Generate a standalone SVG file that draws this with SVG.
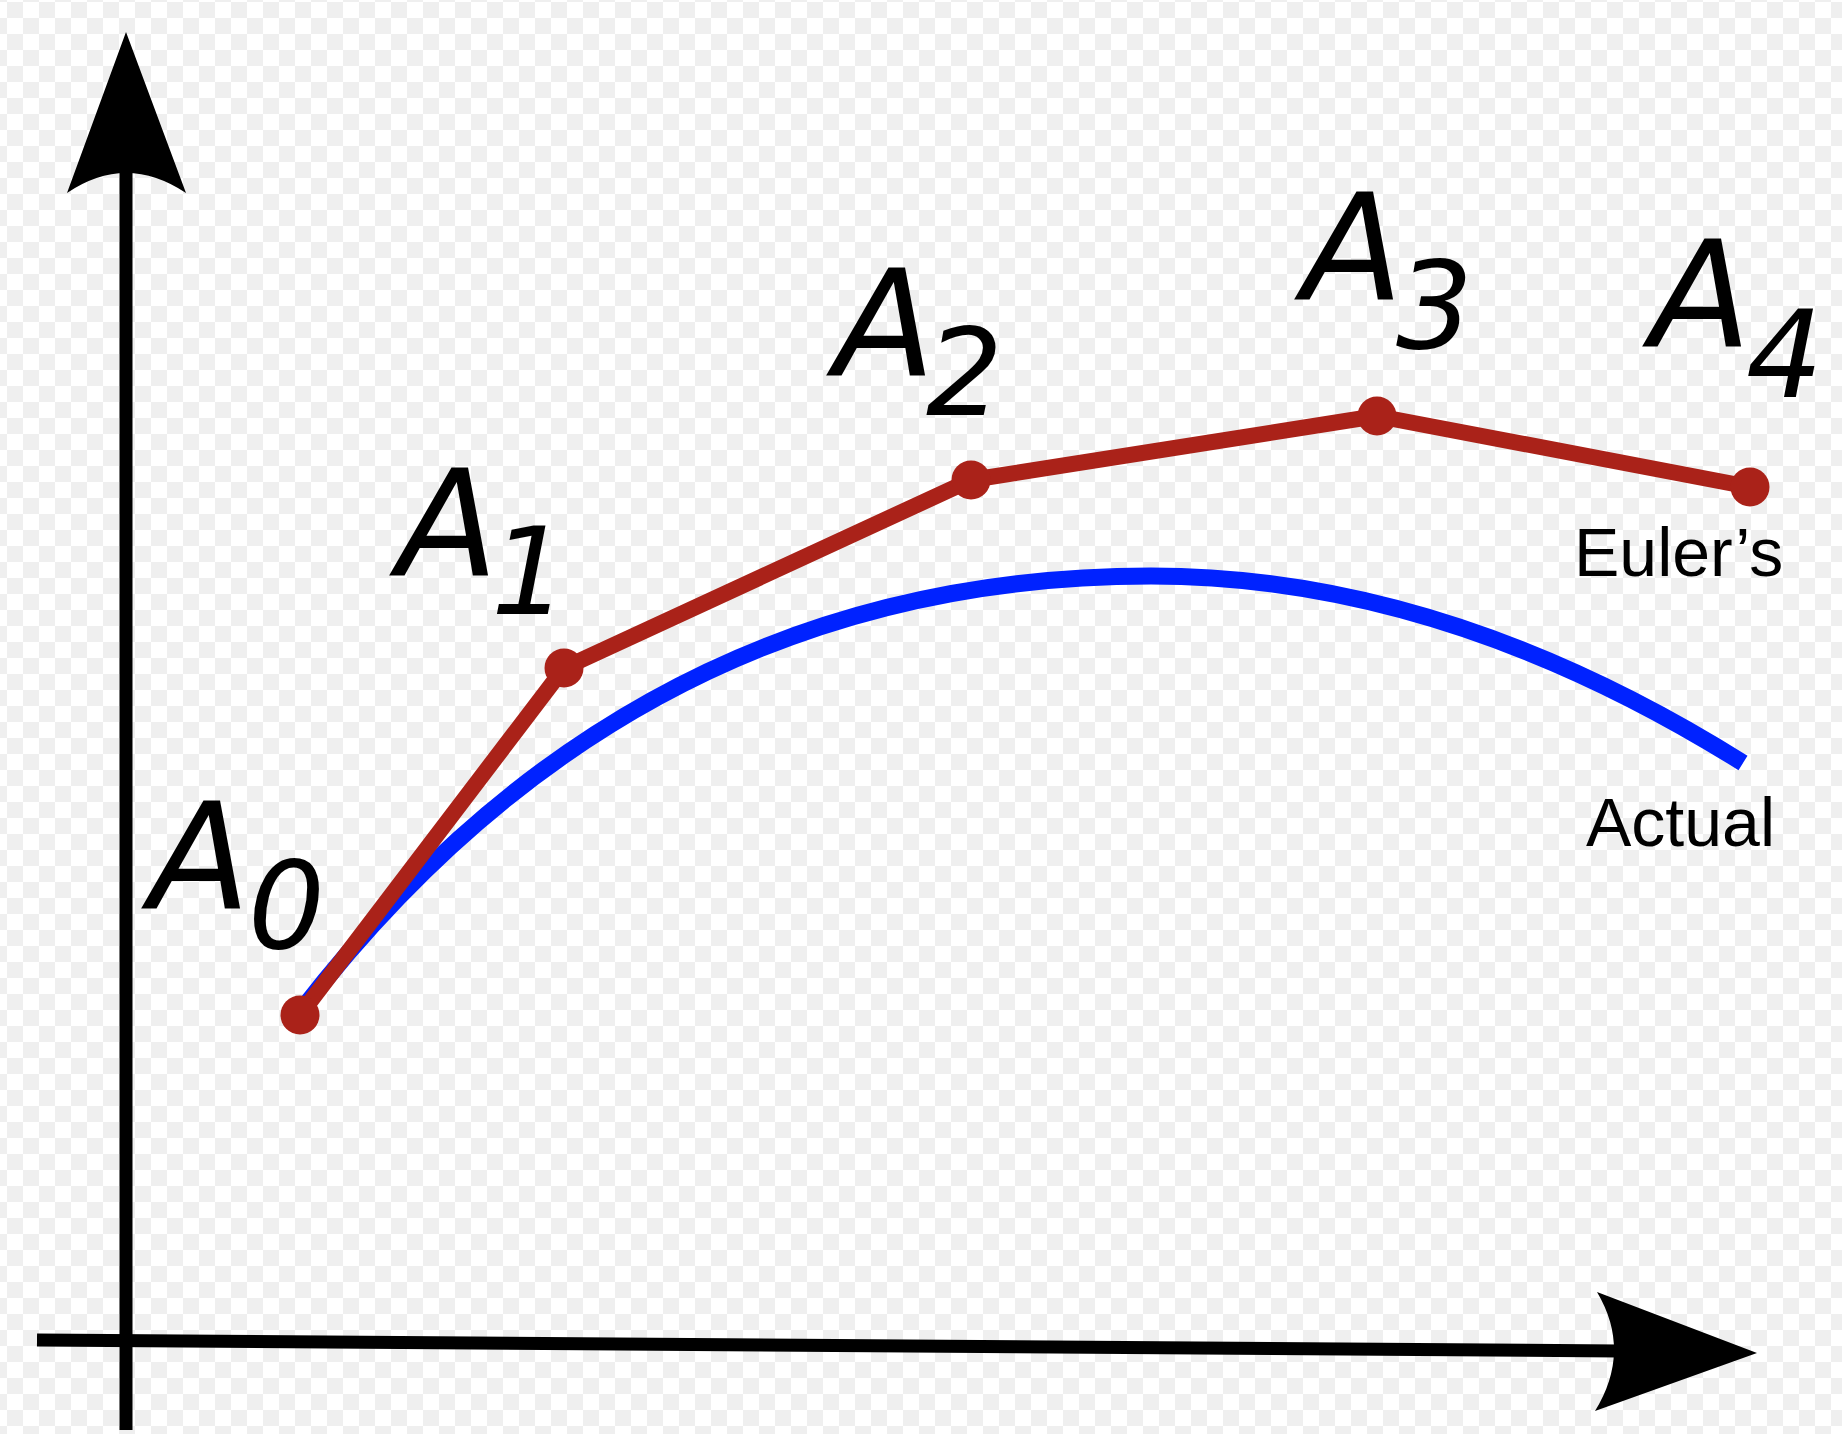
<svg xmlns="http://www.w3.org/2000/svg" width="1842" height="1434" viewBox="0 0 1842 1434">
<defs>
<pattern id="checker" patternUnits="userSpaceOnUse" x="7" y="2" width="32" height="32">
<rect x="0" y="0" width="32" height="32" fill="#ffffff"/>
<rect x="0" y="0" width="16" height="16" fill="#efefef"/>
<rect x="16" y="16" width="16" height="16" fill="#efefef"/>
</pattern>
<style>
.axis{stroke:#000;stroke-width:13;fill:none}
.head{fill:#000;stroke:none}
.euler{stroke:#aa2219;stroke-width:16;fill:none;stroke-linejoin:round}
.dot{fill:#aa2219}
.actual{stroke:#0022ff;stroke-width:17;fill:none}
.big{font-family:"DejaVu Sans",sans-serif;font-style:oblique;font-size:148px;fill:#000}
.sub{font-family:"DejaVu Sans",sans-serif;font-style:oblique;font-size:121px;fill:#000}
.lab{font-family:"Liberation Sans",Arial,sans-serif;font-size:68px;fill:#000}
</style>
</defs>
<rect x="0" y="0" width="1842" height="1434" fill="url(#checker)"/>
<g id="connectors">
<line class="axis" x1="126" y1="170" x2="126" y2="1430"/>
<line class="axis" x1="37" y1="1340" x2="1620" y2="1351"/>
<path class="head" d="M126,32 L186,193 Q126,153 67,193 Z"/>
<path class="head" d="M1757,1353 L1597,1292 Q1632,1351 1595,1411 Z"/>
<path id="actual-curve" class="actual" d="M300,1012 C520,726 801,576 1151,576 C1348,576 1545,639 1743,763"/>
<polyline id="euler-line" class="euler" points="300,1015 564,668 971,480 1377,416 1750,487"/>
</g>
<g id="A0"><circle class="dot" cx="300" cy="1015" r="19.5"/><text class="big" x="149" y="909">A</text><text class="sub" x="248" y="948">0</text></g>
<g id="A1"><circle class="dot" cx="564" cy="668" r="19.5"/><text class="big" x="397" y="576">A</text><text class="sub" x="491" y="614">1</text></g>
<g id="A2"><circle class="dot" cx="971" cy="480" r="19.5"/><text class="big" x="834" y="376">A</text><text class="sub" x="926" y="415">2</text></g>
<g id="A3"><circle class="dot" cx="1377" cy="416" r="19.5"/><text class="big" x="1302" y="300">A</text><text class="sub" x="1396" y="348">3</text></g>
<g id="A4"><circle class="dot" cx="1750" cy="487" r="19.5"/><text class="big" x="1650" y="347">A</text><text class="sub" x="1746" y="397">4</text></g>
<g id="label-euler"><text class="lab" x="1574" y="576">Euler’s</text></g>
<g id="label-actual"><text class="lab" x="1586" y="846">Actual</text></g>
</svg>
